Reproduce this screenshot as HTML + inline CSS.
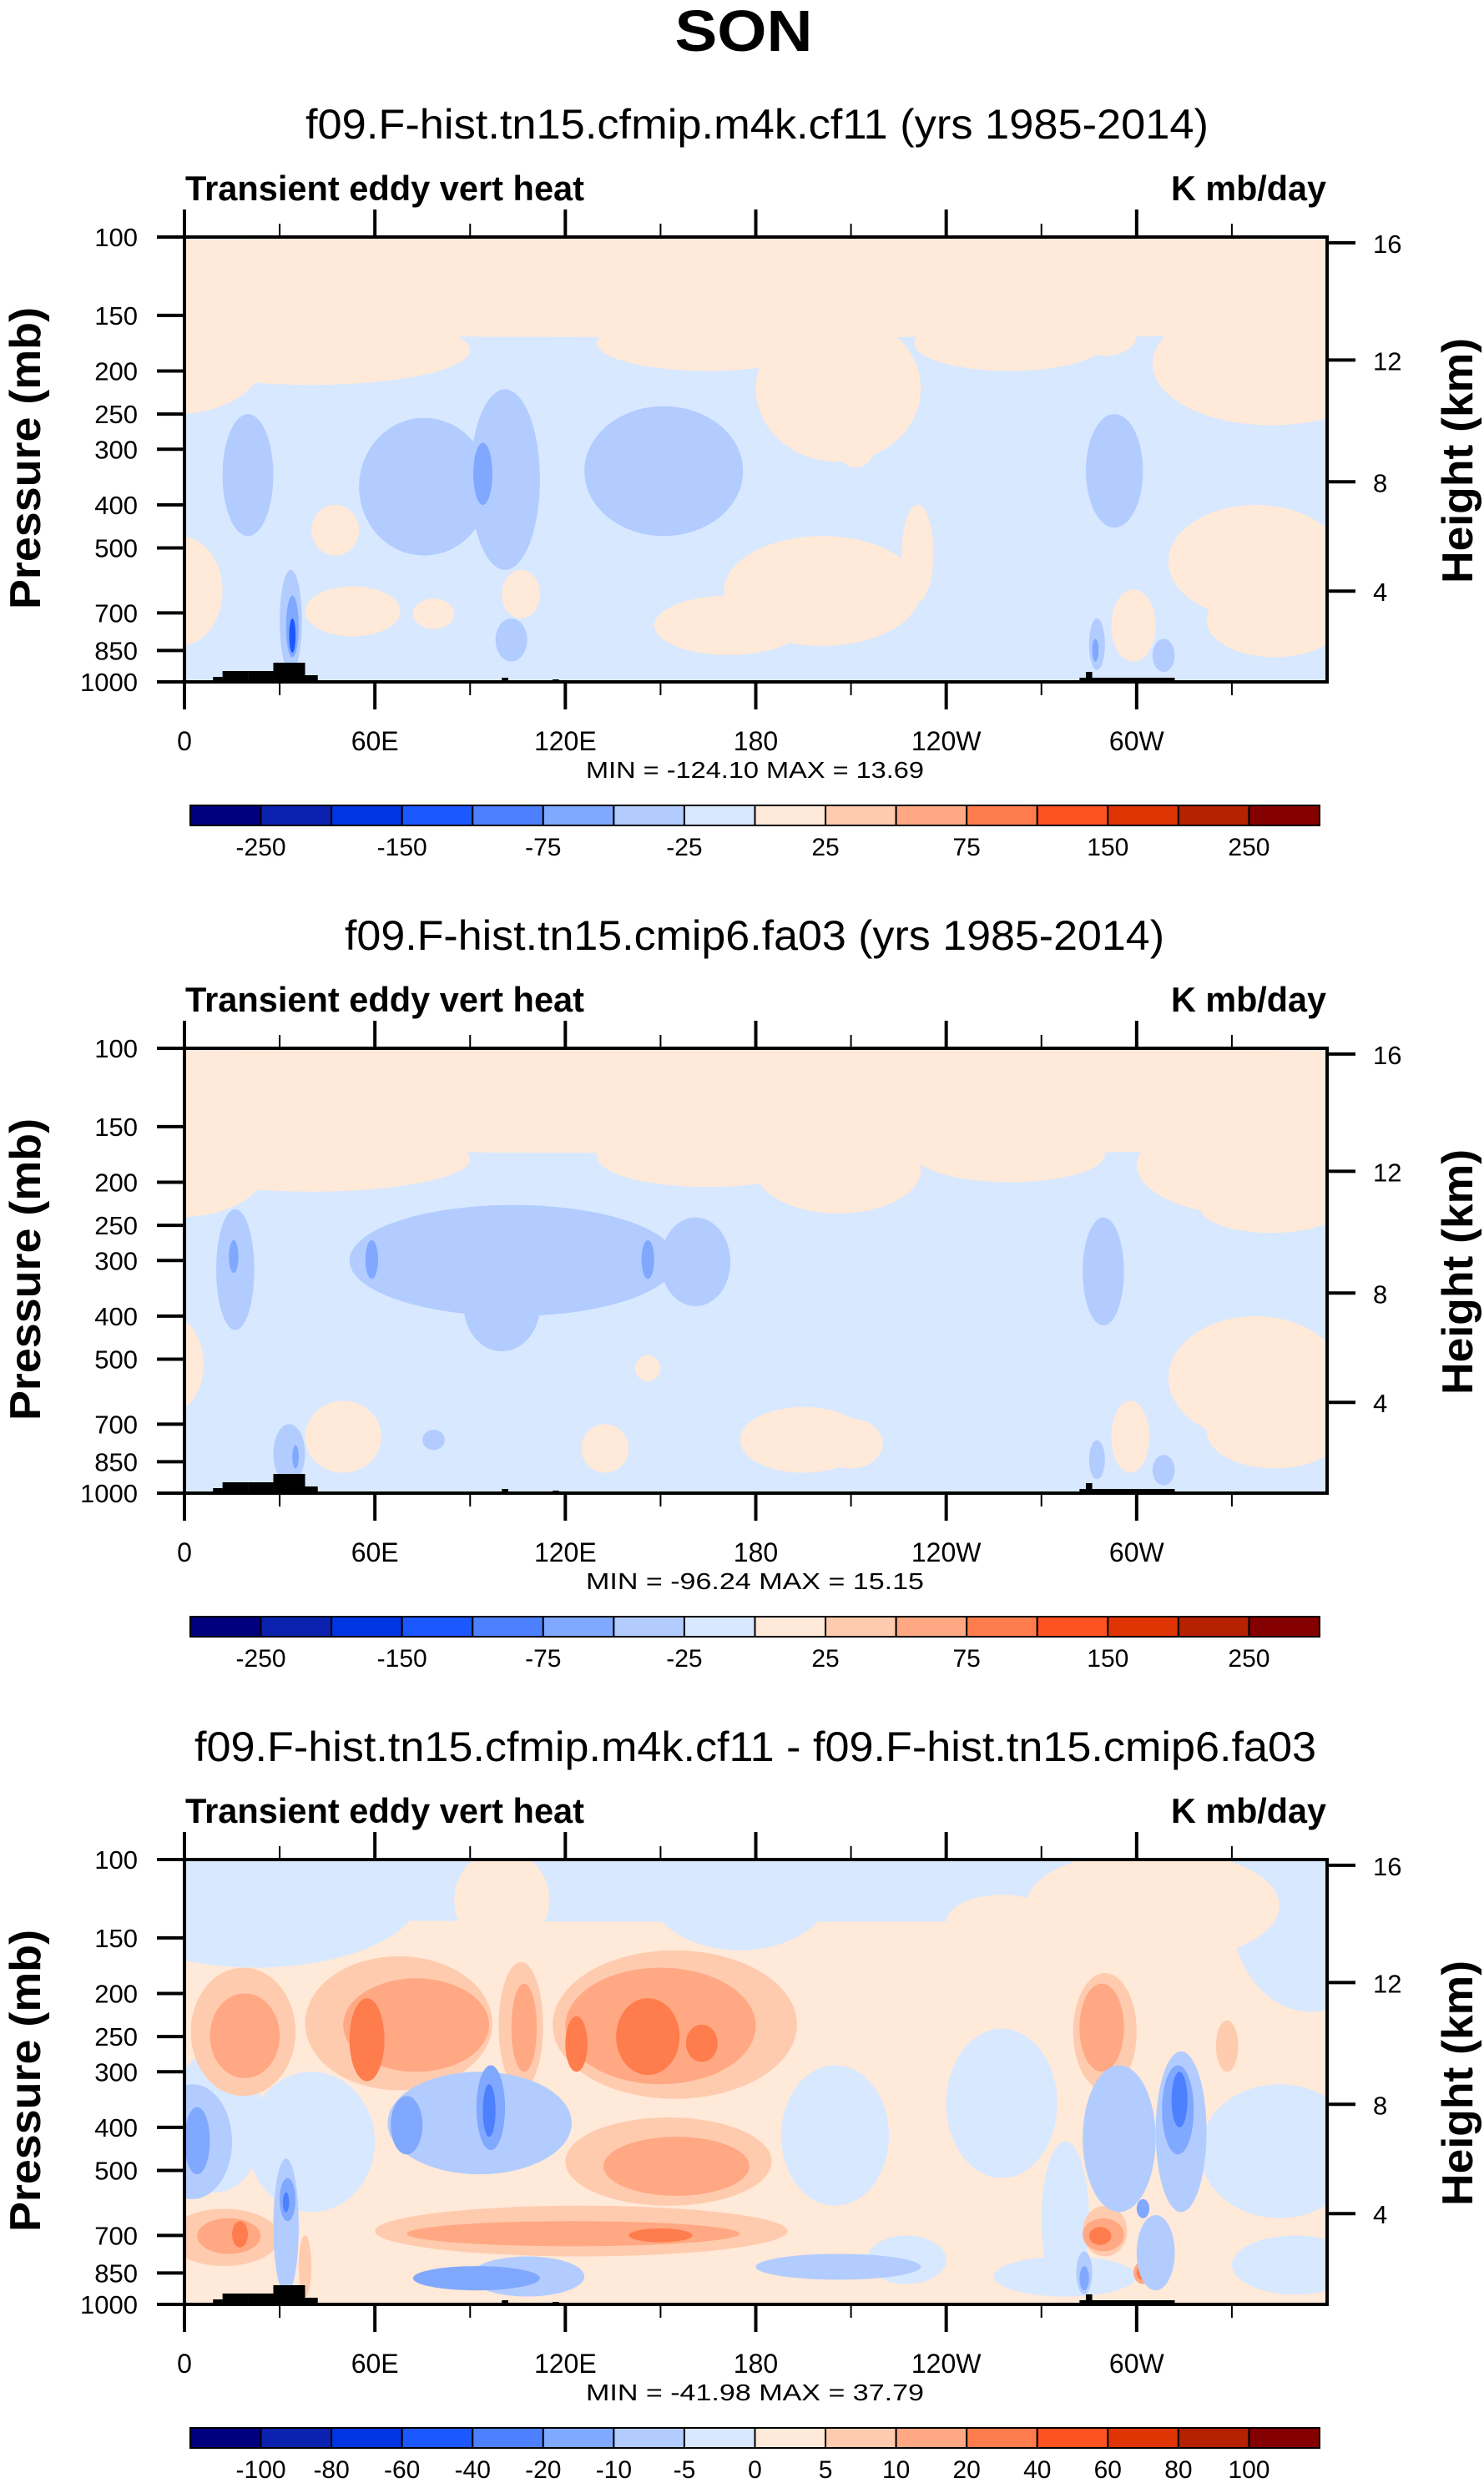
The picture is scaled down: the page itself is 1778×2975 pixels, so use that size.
<!DOCTYPE html>
<html><head><meta charset="utf-8">
<style>
html,body{margin:0;padding:0;background:#fff;}
svg{display:block;}
text{font-family:"Liberation Sans",sans-serif;fill:#000;}
</style></head>
<body>
<svg id="fig" width="1778" height="2975" viewBox="0 0 1778 2975" xmlns="http://www.w3.org/2000/svg">
<text x="891" y="61" font-size="70" font-weight="bold" text-anchor="middle" textLength="165" lengthAdjust="spacingAndGlyphs">SON</text>
</svg>
<script>
// ---- data ----
const lonTicks = [0, 60, 120, 180, 240, 300];
const lonTickLabels = ["0", "60E", "120E", "180", "120W", "60W"];
const presTicks = [100, 150, 200, 250, 300, 400, 500, 700, 850, 1000];
const heightTickLabels = ["16", "12", "8", "4"];
const heightTickPres = [103, 189, 355, 625];
const levelsAbs = [-250,-200,-150,-100,-75,-50,-25,0,25,50,75,100,150,200,250];
const levelsDiff = [-100,-80,-60,-40,-20,-10,-5,0,5,10,20,40,60,80,100];
const cbLabelsAbs = ["","-250","","-150","","-75","","-25","","25","","75","","150","","250",""];
const cbLabelsDiff = ["","-100","-80","-60","-40","-20","-10","-5","0","5","10","20","40","60","80","100",""];
const palette = ['#00007f','#0a22ad','#0035e3','#1c58ff','#4d80ff','#80a8ff','#b2ccff','#d8e8ff','#ffe9d8','#ffcbae','#ffa883','#ff7c4c','#ff5222','#e03404','#b52102','#850000'];
const subtitles = ["f09.F-hist.tn15.cfmip.m4k.cf11 (yrs 1985-2014)","f09.F-hist.tn15.cmip6.fa03 (yrs 1985-2014)","f09.F-hist.tn15.cfmip.m4k.cf11 - f09.F-hist.tn15.cmip6.fa03"];
const subtitleExtents = [[366,1082],[413,982],[233,1344]];
const minmax = ["MIN = -124.10  MAX =  13.69","MIN = -96.24  MAX =  15.15","MIN = -41.98  MAX =  37.79"];
const baseValues = [-10, -10, 2];
// blobs: [lon0, lon1, p0, p1, value]
const blobs1 = [
 [-400,760,100,168,10],[-30,25,140,250,10],[-10,90,150,215,10],[130,200,150,200,10],[180,232,150,320,10],[205,218,250,330,10],[280,300,150,185,10],[305,380,140,265,10],[230,290,150,200,10],
 [-15,12,470,830,10],[38,68,610,790,10],[72,85,650,760,10],[100,112,560,720,10],[170,232,470,830,10],[148,195,640,870,10],[226,236,400,660,10],[310,365,400,720,10],[322,365,600,880,10],[292,306,620,900,10],[40,55,400,520,10],
 [12,28,250,470,-40],[55,96,255,520,-40],[90,112,220,560,-40],[126,176,240,470,-40],[284,302,250,450,-40],[98,108,720,900,-40],[30,37,560,950,-40],[285,290,720,940,-40],[305,312,800,950,-40],
 [91,97,290,400,-60],[32,36,640,880,-60],[33,35,720,860,-120],[286,288,800,900,-60]
];
const blobs2 = [
 [-400,760,100,172,10],[-30,25,150,240,10],[-10,90,150,210,10],[130,200,150,205,10],[180,232,150,235,10],[230,290,150,200,10],[300,380,140,240,10],[320,365,200,260,10],
 [-15,6,400,660,10],[38,62,620,900,10],[125,140,700,900,10],[175,215,640,900,10],[200,220,680,880,10],[310,365,400,760,10],[322,365,600,880,10],[292,304,620,900,10],[142,150,490,560,10],
 [10,22,230,430,-40],[52,155,225,400,-40],[88,112,300,480,-40],[150,172,240,380,-40],[283,296,240,420,-40],[75,82,720,800,-40],[28,38,700,950,-40],[285,290,760,930,-40],[305,312,820,960,-40],
 [14,17,270,320,-60],[57,61,270,330,-60],[144,148,270,330,-60],[34,36,780,880,-60]
];
const blobs3 = [
 [-400,760,80,138,-2],[-30,75,80,175,-2],[145,205,80,160,-2],[330,380,80,220,-2],
 [85,115,95,160,2],[265,345,95,170,2],[240,275,120,160,2],
 [-5,25,270,560,-2],[20,60,300,620,-2],[188,222,290,600,-2],[240,275,240,520,-2],[215,240,700,900,-2],[270,285,430,960,-2],[320,370,320,640,-2],[330,370,700,950,-2],[255,300,780,960,-2],
 [2,35,175,340,7],[38,97,165,330,7],[99,113,170,330,7],[116,193,160,345,7],[120,185,380,600,7],[60,190,600,780,7],[-5,30,610,820,7],[280,300,180,330,7],[283,297,600,780,7],[325,332,230,300,7],[36,40,700,960,7],
 [8,30,200,310,15],[50,96,185,300,15],[103,111,190,300,15],[120,180,175,320,15],[132,178,420,570,15],[70,175,650,740,15],[4,24,640,770,15],[282,296,190,300,15],[283,296,640,760,15],[299,305,800,900,15],
 [52,63,205,315,30],[120,127,225,300,30],[136,156,205,305,30],[158,168,235,285,30],[140,160,675,725,30],[15,20,650,745,30],[285,292,670,735,30],[300,303,820,880,30],
 [-10,15,320,580,-7],[28,36,470,950,-7],[64,122,300,510,-7],[90,126,780,960,-7],[180,232,770,880,-7],[283,306,290,620,-7],[306,322,270,620,-7],[300,312,630,930,-7],[281,286,760,950,-7],
 [0,8,360,510,-15],[65,75,340,460,-15],[92,101,290,450,-15],[30,35,520,650,-15],[308,318,290,460,-15],[72,112,820,930,-15],[300,304,580,640,-15],[282,285,820,930,-15],
 [94,98,320,420,-30],[31,33,560,620,-30],[311,316,300,400,-30]
];
const allBlobs = [blobs1, blobs2, blobs3];
const allLevels = [levelsAbs, levelsAbs, levelsDiff];
const allCbLabels = [cbLabelsAbs, cbLabelsAbs, cbLabelsDiff];
// topography: [lon0, lon1, heightPx]
const topo = [[9,12,6],[12,20,13],[20,28,13],[28,33,23],[33,38,23],[38,42,8],[100,102,5],[116,118,3],[282,312,5],[284,286,12]];

// ---- drawing ----
const NS = "http://www.w3.org/2000/svg";
const svg = document.getElementById('fig');
const X0 = 221, X1 = 1590, PH = 533;
function mk(tag, attrs, parent){ const e = document.createElementNS(NS, tag); for (const k in attrs) e.setAttribute(k, attrs[k]); (parent||svg).appendChild(e); return e; }
function colorFor(v, lv){ let i = 0; while (i < lv.length && v >= lv[i]) i++; return palette[i]; }

for (let pi = 0; pi < 3; pi++) {
  const top = 284 + pi*972, bot = top + PH;
  const xs = lon => X0 + lon/360*(X1-X0);
  const ys = p => top + Math.log10(p/100)*PH;
  const g = mk('g', {});
  
  

  const st = mk('text', {x: subtitleExtents[pi][0], y: top-118, 'font-size': 50, textLength: subtitleExtents[pi][1], lengthAdjust: 'spacingAndGlyphs'}, g);
  st.textContent = subtitles[pi];
  
  
  const lt = mk('text', {x: 222, y: top-44, 'font-size': 42, 'font-weight': 'bold', textLength: 478, lengthAdjust: 'spacingAndGlyphs'}, g);
  lt.textContent = "Transient eddy vert heat";
  
  
  const ut = mk('text', {x: 1403, y: top-44, 'font-size': 42, 'font-weight': 'bold', textLength: 186, lengthAdjust: 'spacingAndGlyphs'}, g);
  ut.textContent = "K mb/day";
  
  

  const cid = 'clip' + pi;
  const cp = mk('clipPath', {id: cid}, g);
  mk('rect', {x: X0, y: top, width: X1-X0, height: PH}, cp);
  const field = mk('g', {'clip-path': 'url(#' + cid + ')'}, g);
  
  
  const lv = allLevels[pi];
  mk('rect', {x: X0, y: top, width: X1-X0, height: PH, fill: colorFor(baseValues[pi], lv)}, field);
  for (const b of allBlobs[pi]) {
    const xa = xs(b[0]), xb = xs(b[1]), ya = ys(b[2]), yb = ys(b[3]);
    const e = mk('ellipse', {cx: (xa+xb)/2, cy: (ya+yb)/2, rx: Math.abs(xb-xa)/2, ry: Math.abs(yb-ya)/2, fill: colorFor(b[4], lv)}, field);
    
    
  }
  for (const t of topo) {
    const r = mk('rect', {x: xs(t[0]), y: bot - t[2], width: xs(t[1]) - xs(t[0]), height: t[2], fill: '#000'}, field);
    
    
  }
  mk('rect', {x: X0, y: top, width: X1-X0, height: PH, fill: 'none', stroke: '#000', 'stroke-width': 4}, g);

  // x ticks
  for (let lon = 0; lon < 360; lon += 30) {
    const major = lon % 60 === 0, x = xs(lon), L = major ? 33 : 16;
    mk('line', {x1: x, y1: bot, x2: x, y2: bot+L, stroke: '#000', 'stroke-width': major?4:2}, g);
    mk('line', {x1: x, y1: top, x2: x, y2: top-L, stroke: '#000', 'stroke-width': major?4:2}, g);
  }
  lonTicks.forEach((lon, i) => {
    const t = mk('text', {x: xs(lon), y: bot+82, 'font-size': 32, 'text-anchor': 'middle'}, g);
    t.textContent = lonTickLabels[i];
    
    
  });
  // y ticks
  presTicks.forEach(p => {
    const y = ys(p);
    mk('line', {x1: X0-33, y1: y, x2: X0, y2: y, stroke: '#000', 'stroke-width': 4}, g);
    const t = mk('text', {x: 165, y: y+11, 'font-size': 31, 'text-anchor': 'end'}, g);
    t.textContent = String(p);
    
    
  });
  heightTickPres.forEach((p, i) => {
    const y = ys(p);
    mk('line', {x1: X1, y1: y, x2: X1+34, y2: y, stroke: '#000', 'stroke-width': 4}, g);
    const t = mk('text', {x: 1645, y: y+12, 'font-size': 31}, g);
    t.textContent = heightTickLabels[i];
    
    
  });
  const yl = mk('text', {x: 0, y: 0, 'font-size': 52, 'font-weight': 'bold', 'text-anchor': 'middle', textLength: 362, lengthAdjust: 'spacingAndGlyphs', transform: 'translate(48,' + (top+265) + ') rotate(-90)'}, g);
  yl.textContent = "Pressure (mb)";
  
  
  const hl = mk('text', {x: 0, y: 0, 'font-size': 52, 'font-weight': 'bold', 'text-anchor': 'middle', textLength: 294, lengthAdjust: 'spacingAndGlyphs', transform: 'translate(1764,' + (top+268) + ') rotate(-90)'}, g);
  hl.textContent = "Height (km)";
  
  
  const mm = mk('text', {x: 702, y: bot+115, 'font-size': 28, textLength: 405, lengthAdjust: 'spacingAndGlyphs'}, g);
  mm.textContent = minmax[pi];
  
  

  // colorbar
  const cb = mk('g', {}, g);
  
  
  const cx0 = 228, cx1 = 1581, cy = top+681, ch = 24, w = (cx1-cx0)/16;
  for (let k = 0; k < 16; k++) {
    const r = mk('rect', {x: cx0+k*w, y: cy, width: w, height: ch, fill: palette[k], stroke: '#000', 'stroke-width': 2}, cb);
    
    
  }
  allCbLabels[pi].forEach((lab, k) => {
    if (!lab) return;
    const t = mk('text', {x: cx0+k*w, y: top+741, 'font-size': 30, 'text-anchor': 'middle'}, cb);
    t.textContent = lab;
    
    
  });
}
</script>
</body></html>
